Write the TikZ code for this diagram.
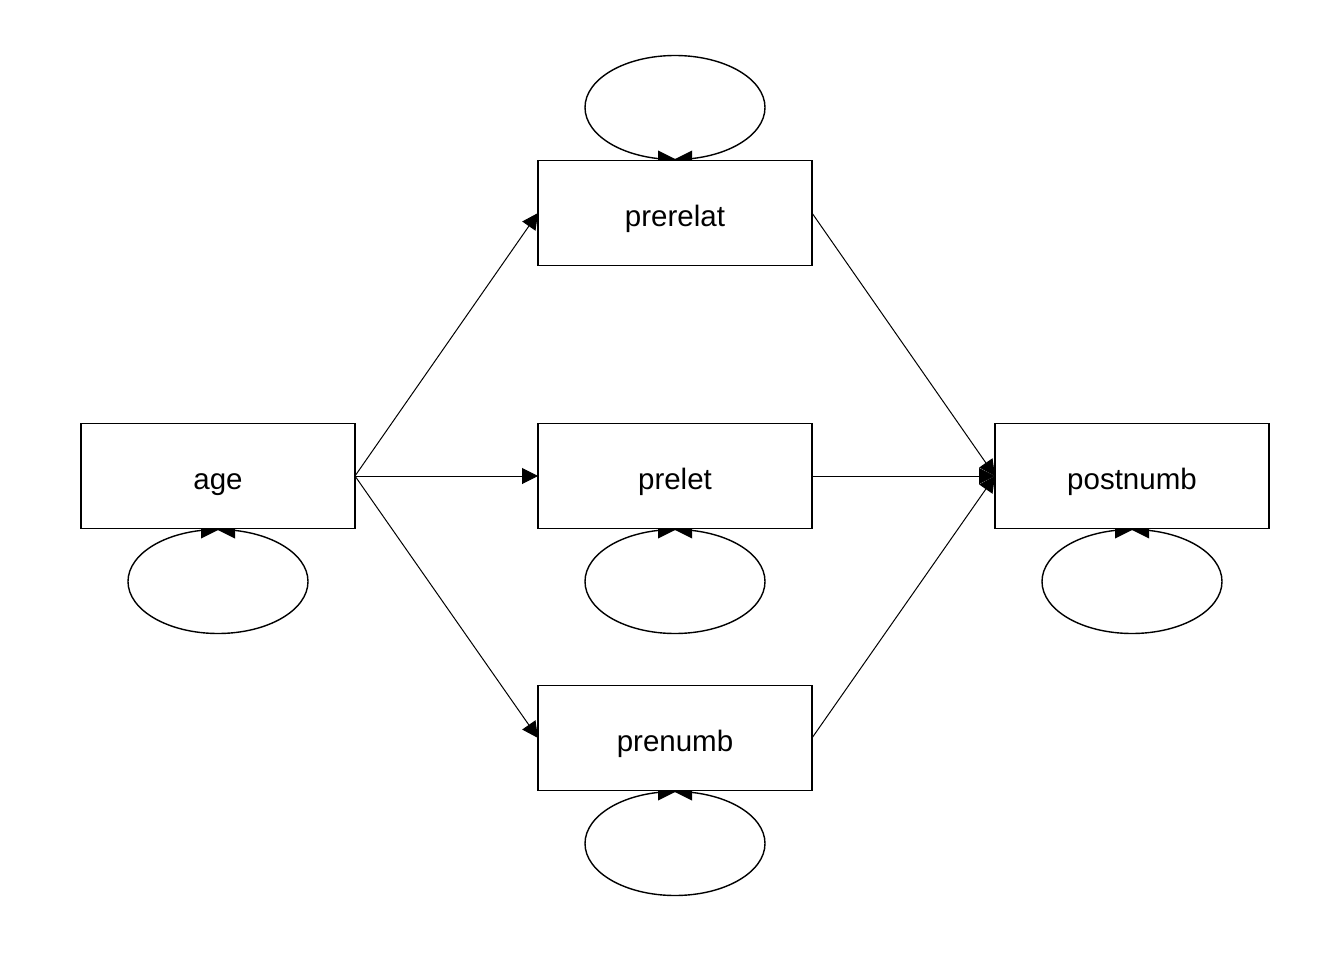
\documentclass[tikz,border=0pt]{standalone}
\usepackage{fontspec}
\setmainfont{Liberation Sans}
\usetikzlibrary{arrows.meta}
\tikzset{
  box/.style={draw, line width=1.6pt, minimum width=274pt, minimum height=105pt, inner sep=0pt, outer sep=0pt, text height=27pt, text depth=0pt, font=\fontsize{29.5}{32}\selectfont},
  conn/.style={line width=1pt, -{Triangle[length=16pt,width=16pt]}},
  loopline/.style={line width=1.4pt},
  loophead/.style={fill=black}
}
\begin{document}
\begin{tikzpicture}[x=1pt,y=-1pt]
\useasboundingbox[fill=white] (0,0) rectangle (1344,960);
\node[box] (age) at (218,476) {age};
\node[box] (prerelat) at (675,213) {prerelat};
\node[box] (prelet) at (675,476) {prelet};
\node[box] (prenumb) at (675,738) {prenumb};
\node[box] (postnumb) at (1132,476) {postnumb};
\draw[conn] (age.east) -- (prerelat.west);
\draw[conn] (age.east) -- (prelet.west);
\draw[conn] (age.east) -- (prenumb.west);
\draw[conn] (prerelat.east) -- (postnumb.west);
\draw[conn] (prelet.east) -- (postnumb.west);
\draw[conn] (prenumb.east) -- (postnumb.west);
% loops below
\foreach \n in {age,prelet,prenumb,postnumb}{
  \draw[loopline] ([yshift=-53pt]\n.south) ellipse [x radius=90pt, y radius=52pt];
  \fill[loophead] ([xshift=-17pt]\n.south) -- ([xshift=-17pt,yshift=-10pt]\n.south) -- ([xshift=1pt,yshift=-1pt]\n.south) -- cycle;
  \fill[loophead] ([xshift=17pt]\n.south) -- ([xshift=17pt,yshift=-10pt]\n.south) -- ([xshift=-1pt,yshift=-1pt]\n.south) -- cycle;
}
% loop above
\draw[loopline] ([yshift=53pt]prerelat.north) ellipse [x radius=90pt, y radius=52pt];
\fill[loophead] ([xshift=-17pt]prerelat.north) -- ([xshift=-17pt,yshift=10pt]prerelat.north) -- ([xshift=1pt,yshift=1pt]prerelat.north) -- cycle;
\fill[loophead] ([xshift=17pt]prerelat.north) -- ([xshift=17pt,yshift=10pt]prerelat.north) -- ([xshift=-1pt,yshift=1pt]prerelat.north) -- cycle;
\end{tikzpicture}
\end{document}
